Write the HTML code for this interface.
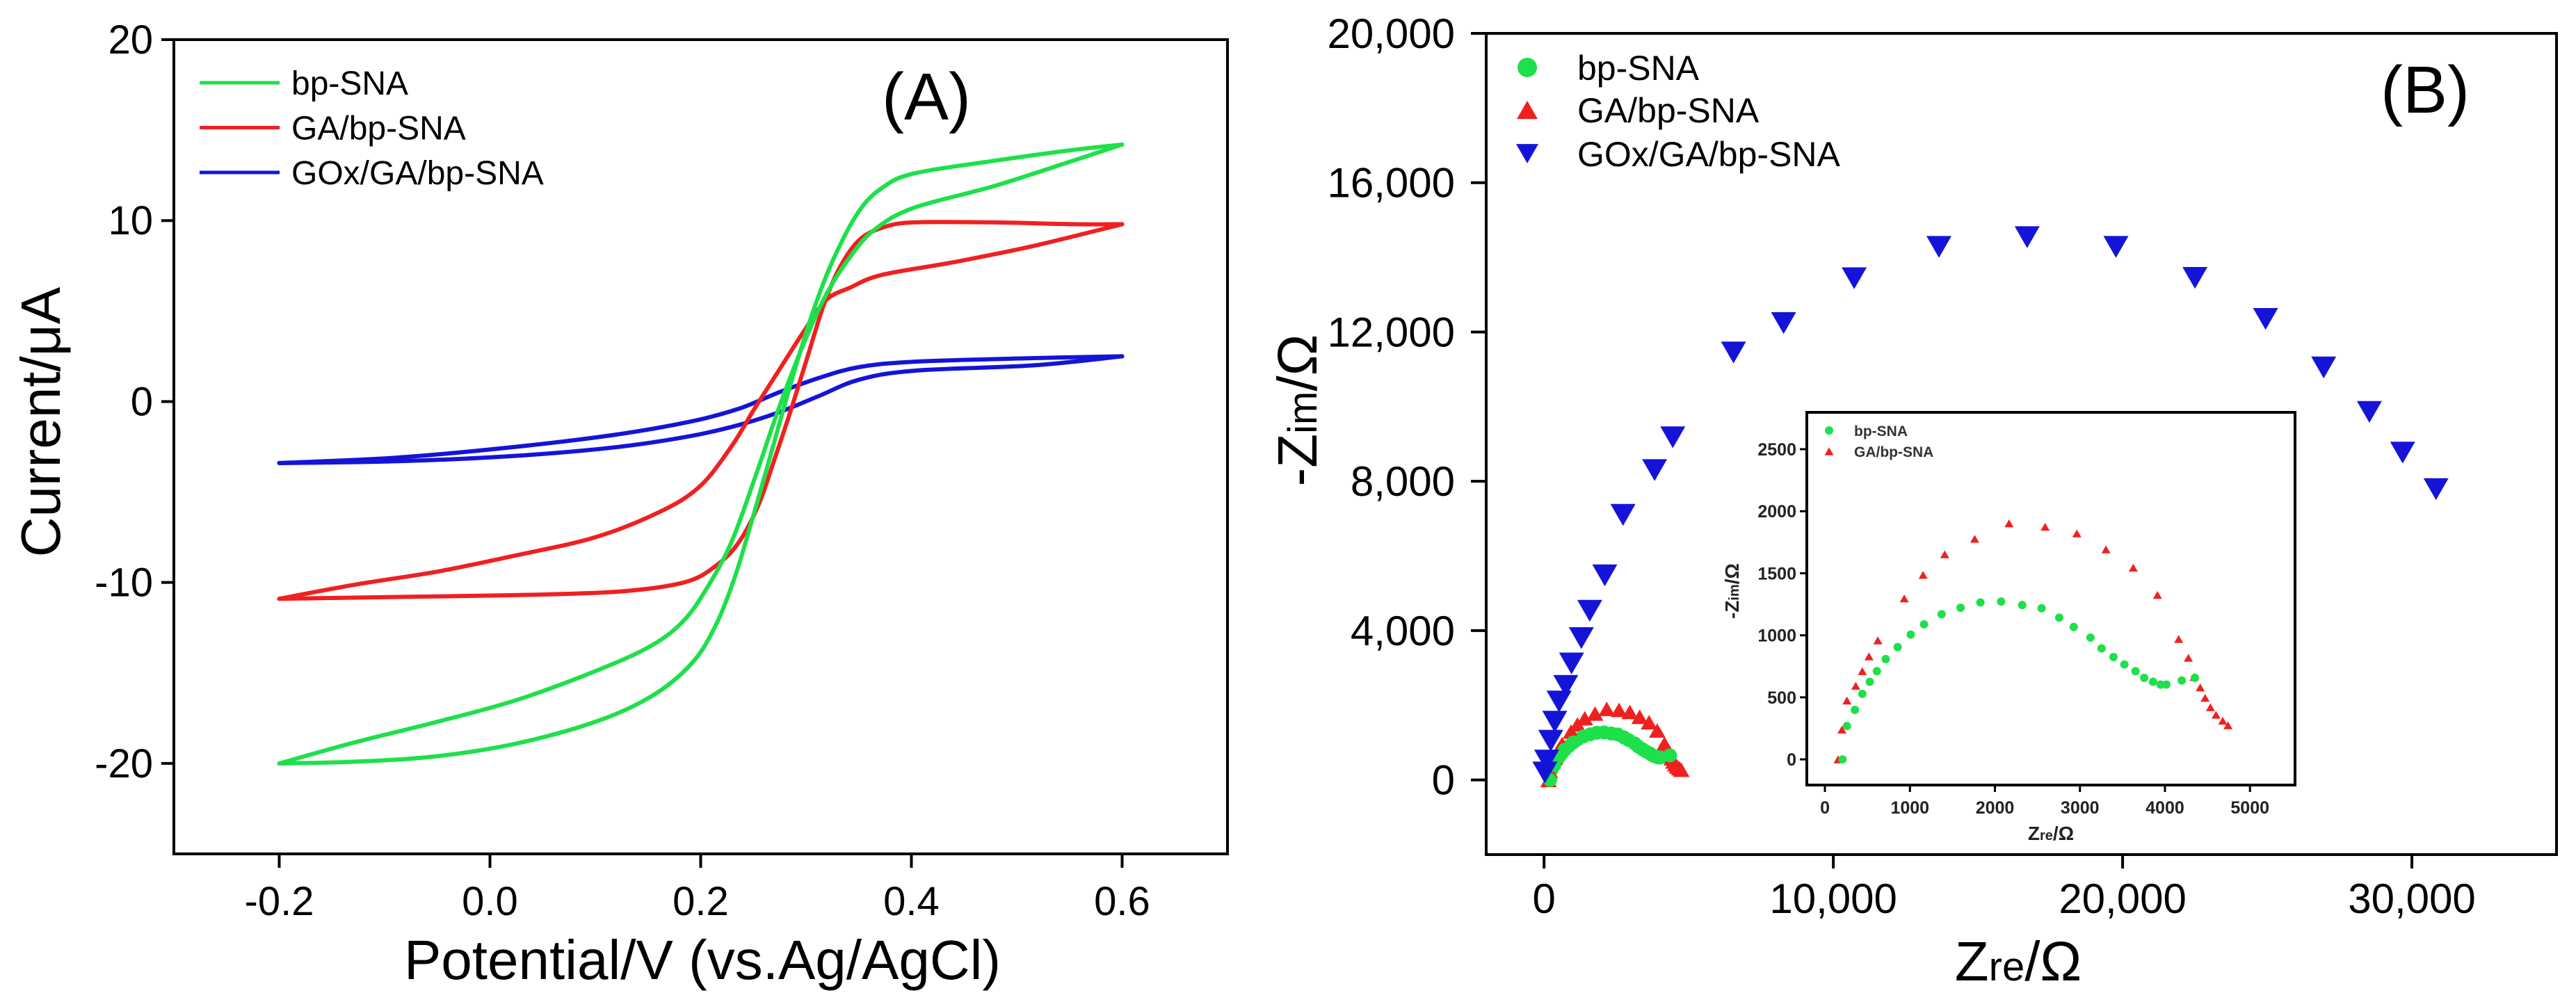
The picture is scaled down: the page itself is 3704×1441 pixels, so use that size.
<!DOCTYPE html>
<html><head><meta charset="utf-8"><style>
html,body{margin:0;padding:0;background:#fff}
svg{display:block}
text{font-family:"Liberation Sans",sans-serif}
</style></head><body>
<svg id="fig" width="3704" height="1441" viewBox="0 0 3704 1441" xmlns="http://www.w3.org/2000/svg">
<g id="panelA"></g>
<g id="panelB"></g>
</svg>
<script>
// ---------- Panel A data (CV) ----------
const cvTicksX = [-0.2, 0.0, 0.2, 0.4, 0.6];
const cvTickLabelsX = ["-0.2", "0.0", "0.2", "0.4", "0.6"];
const cvTicksY = [20, 10, 0, -10, -20];
const cvTickLabelsY = ["20", "10", "0", "-10", "-20"];
const cvSeriesNames = ["bp-SNA", "GA/bp-SNA", "GOx/GA/bp-SNA"];
const greenFwdV = [-0.2,-0.126,-0.05,0.025,0.1,0.153,0.191,0.214,0.233,0.251,0.270,0.289,0.308,0.327,0.350,0.372,0.402,0.478,0.553,0.6];
const greenFwdI = [-20.0,-19.9,-19.6,-18.9,-17.7,-16.3,-14.5,-12.4,-9.6,-6.1,-2.2,1.7,5.2,8.0,10.5,11.8,12.6,13.3,13.9,14.2];
const greenRevV = [-0.2,-0.126,-0.05,0.025,0.1,0.153,0.184,0.206,0.229,0.251,0.274,0.297,0.319,0.342,0.365,0.402,0.478,0.553,0.6];
const greenRevI = [-20.0,-18.8,-17.7,-16.5,-14.9,-13.5,-12.1,-10.3,-7.8,-4.3,-0.4,3.1,5.9,8.0,9.5,10.7,11.9,13.3,14.2];
const redFwdV = [-0.2,-0.088,0.025,0.123,0.184,0.214,0.236,0.255,0.270,0.286,0.301,0.316,0.331,0.350,0.372,0.402,0.478,0.553,0.6];
const redFwdI = [-10.9,-10.8,-10.7,-10.5,-10.0,-9.1,-7.8,-5.7,-3.2,-0.4,2.4,5.2,7.3,8.9,9.6,9.9,9.9,9.8,9.8];
const redRevV = [-0.2,-0.126,-0.05,0.025,0.1,0.161,0.199,0.229,0.251,0.274,0.297,0.319,0.342,0.372,0.440,0.516,0.6];
const redRevI = [-10.9,-10.1,-9.4,-8.5,-7.5,-6.1,-4.7,-2.5,-0.4,1.7,3.8,5.6,6.3,7.0,7.7,8.6,9.8];
const blueFwdV = [-0.2,-0.088,0.025,0.123,0.191,0.236,0.274,0.312,0.350,0.402,0.516,0.6];
const blueFwdI = [-3.4,-3.1,-2.5,-1.8,-1.1,-0.4,0.5,1.3,1.9,2.2,2.4,2.5];
const blueRevV = [-0.2,-0.088,0.025,0.123,0.191,0.236,0.274,0.312,0.350,0.402,0.516,0.6];
const blueRevI = [-3.4,-3.3,-3.0,-2.5,-1.9,-1.3,-0.6,0.3,1.2,1.7,2.0,2.5];

// ---------- Panel B data (Nyquist) ----------
const nqTicksX = [0, 10000, 20000, 30000];
const nqTickLabelsX = ["0", "10,000", "20,000", "30,000"];
const nqTicksY = [0, 4000, 8000, 12000, 16000, 20000];
const nqTickLabelsY = ["0", "4,000", "8,000", "12,000", "16,000", "20,000"];
const blueZre = [30,90,230,370,520,750,950,1290,1580,2100,2730,3820,4450,6550,8280,10720,13650,16700,19770,22500,24940,26950,28530,29680,30833];
const blueZim = [200,520,1050,1560,2100,2520,3120,3800,4530,5480,7100,8300,9180,11450,12240,13440,14280,14540,14280,13450,12350,11050,9860,8770,7790];
const redZre = [155,200,259,363,440,518,622,933,1155,1409,1762,2166,2591,2964,3306,3627,3912,4161,4275,4342,4415,4472,4534,4601,4679,4741];
const redZim = [0,240,474,593,711,830,959,1297,1487,1653,1778,1903,1875,1821,1692,1545,1325,970,819,664,580,496,420,360,312,274];
const greenZre = [207,259,352,440,528,611,715,855,1010,1166,1373,1596,1829,2073,2321,2549,2756,2927,3124,3254,3394,3523,3653,3756,3860,3948,4016,4197,4352];
const greenZim = [0,269,399,528,625,711,808,905,1006,1088,1170,1222,1265,1272,1244,1218,1142,1067,981,894,825,765,711,657,625,603,603,636,657];
const insetTicksX = [0,1000,2000,3000,4000,5000];
const insetTickLabelsX = ["0","1000","2000","3000","4000","5000"];
const insetTicksY = [0,500,1000,1500,2000,2500];
const insetTickLabelsY = ["0","500","1000","1500","2000","2500"];

const NS = "http://www.w3.org/2000/svg";
function mk(parent, tag, attrs, txt){
  const e = document.createElementNS(NS, tag);
  for (const k in attrs) e.setAttribute(k, attrs[k]);
  if (txt !== undefined) e.textContent = txt;
  parent.appendChild(e);
  return e;
}
function lin(d0,d1,r0,r1){ return v => r0 + (v-d0)/(d1-d0)*(r1-r0); }

const GREEN="#1ee04a", RED="#f02020", BLUE="#1414d8";

// ================= Panel A =================
const A = document.getElementById('panelA');
const ax = lin(-0.3, 0.7, 250, 1765);
const ay = lin(-25, 20, 1228, 57);
let e;
e = mk(A,'rect',{x:250,y:57,width:1515,height:1171,fill:'none',stroke:'#000','stroke-width':4});


cvTicksY.forEach((t,i)=>{
  e = mk(A,'line',{x1:232,x2:250,y1:ay(t),y2:ay(t),stroke:'#000','stroke-width':4});
  
  
  e = mk(A,'text',{x:220,y:ay(t)+20,'font-size':58,'text-anchor':'end'},cvTickLabelsY[i]);
  
  
});
cvTicksX.forEach((t,i)=>{
  e = mk(A,'line',{x1:ax(t),x2:ax(t),y1:1228,y2:1248,stroke:'#000','stroke-width':4});
  
  
  e = mk(A,'text',{x:ax(t),y:1316,'font-size':58,'text-anchor':'middle'},cvTickLabelsX[i]);
  
  
});
e = mk(A,'text',{x:1010,y:1408,'font-size':80,'text-anchor':'middle'},'Potential/V (vs.Ag/AgCl)');


e = mk(A,'text',{x:0,y:0,'font-size':80,'text-anchor':'middle',transform:'translate(86,607) rotate(-90)'},'Current/μA');


e = mk(A,'text',{x:1332,y:172,'font-size':96,'text-anchor':'middle'},'(A)');


function smoothPath(pts){
  let d = 'M'+pts[0][0].toFixed(1)+','+pts[0][1].toFixed(1);
  for(let i=0;i<pts.length-1;i++){
    const p0 = pts[Math.max(0,i-1)], p1 = pts[i], p2 = pts[i+1], p3 = pts[Math.min(pts.length-1,i+2)];
    const c1x = p1[0]+(p2[0]-p0[0])/6, c1y = p1[1]+(p2[1]-p0[1])/6;
    const c2x = p2[0]-(p3[0]-p1[0])/6, c2y = p2[1]-(p3[1]-p1[1])/6;
    d += ' C'+c1x.toFixed(1)+','+c1y.toFixed(1)+' '+c2x.toFixed(1)+','+c2y.toFixed(1)+' '+p2[0].toFixed(1)+','+p2[1].toFixed(1);
  }
  return d;
}
function cvLine(V,I,color,name){
  const pts = V.map((v,i)=>[ax(v), ay(I[i])]);
  const p = mk(A,'path',{d:smoothPath(pts),fill:'none',stroke:color,'stroke-width':6,'stroke-linejoin':'round','stroke-linecap':'round'});
  
  
}
cvLine(blueFwdV,blueFwdI,BLUE,'gox-ga-bp-sna-forward-scan');
cvLine(blueRevV,blueRevI,BLUE,'gox-ga-bp-sna-reverse-scan');
cvLine(redFwdV,redFwdI,RED,'ga-bp-sna-forward-scan');
cvLine(redRevV,redRevI,RED,'ga-bp-sna-reverse-scan');
cvLine(greenFwdV,greenFwdI,GREEN,'bp-sna-forward-scan');
cvLine(greenRevV,greenRevI,GREEN,'bp-sna-reverse-scan');
[GREEN,RED,BLUE].forEach((c,i)=>{
  const y = 119 + i*64.5;
  e = mk(A,'line',{x1:287,x2:402,y1:y,y2:y,stroke:c,'stroke-width':5});
  
  
  e = mk(A,'text',{x:419,y:y+17,'font-size':48},cvSeriesNames[i]);
  
  
});

// ================= Panel B =================
const B = document.getElementById('panelB');
const bx = lin(-2000, 35000, 2137, 3676);
const by = lin(-2000, 20000, 1229, 48);
e = mk(B,'rect',{x:2137,y:48,width:1539,height:1181,fill:'none',stroke:'#000','stroke-width':4});


nqTicksY.forEach((t,i)=>{
  e = mk(B,'line',{x1:2115,x2:2137,y1:by(t),y2:by(t),stroke:'#000','stroke-width':4});
  
  
  e = mk(B,'text',{x:2092,y:by(t)+21,'font-size':60,'text-anchor':'end'},nqTickLabelsY[i]);
  
  
});
nqTicksX.forEach((t,i)=>{
  e = mk(B,'line',{x1:bx(t),x2:bx(t),y1:1229,y2:1249,stroke:'#000','stroke-width':4});
  
  
  e = mk(B,'text',{x:bx(t),y:1313,'font-size':60,'text-anchor':'middle'},nqTickLabelsX[i]);
  
  
});
e = mk(B,'text',{x:2902,y:1410,'font-size':80,'text-anchor':'middle'});


mk(e,'tspan',{},'Z');mk(e,'tspan',{'font-size':58},'re');mk(e,'tspan',{},'/Ω');
e = mk(B,'text',{x:0,y:0,'font-size':80,'text-anchor':'middle',transform:'translate(1893,590) rotate(-90)'});


mk(e,'tspan',{},'-Z');mk(e,'tspan',{'font-size':58},'im');mk(e,'tspan',{},'/Ω');
e = mk(B,'text',{x:3487,y:162,'font-size':96,'text-anchor':'middle'},'(B)');



function tri(parent,cx,cy,s,color,down){
  const h = s*0.87;
  const pts = down ? [[cx-s/2,cy-h/2],[cx+s/2,cy-h/2],[cx,cy+h/2]] : [[cx-s/2,cy+h/2],[cx+s/2,cy+h/2],[cx,cy-h/2]];
  return mk(parent,'polygon',{points:pts.map(p=>p[0].toFixed(1)+','+p[1].toFixed(1)).join(' '),fill:color});
}
greenZre.forEach((v,i)=>{
  e = mk(B,'circle',{cx:bx(v),cy:by(greenZim[i]),r:10,fill:GREEN});
  
  
});
redZre.forEach((v,i)=>{
  e = tri(B,bx(v),by(redZim[i]),24,RED,false);
  
  
});
greenZre.forEach((v,i)=>{
  if(i%2) return;
  e = mk(B,'circle',{cx:bx(v),cy:by(greenZim[i]),r:10,fill:GREEN});
  
  
});
blueZre.forEach((v,i)=>{
  e = tri(B,bx(v),by(blueZim[i]),36,BLUE,true);
  
  
});
e = mk(B,'circle',{cx:2196,cy:97,r:14,fill:GREEN});


e = tri(B,2196,158,30,RED,false);


e = tri(B,2196,221,32,BLUE,true);


cvSeriesNames.forEach((n,i)=>{
  e = mk(B,'text',{x:2268,y:[97,158,221][i]+18,'font-size':50},n);
  
  
});

// ---------- Inset ----------
const I = mk(B,'g',{});


const ix = lin(-213, 5530, 2598, 3300);
const iy = lin(-207, 2797, 1129, 593);
e = mk(I,'rect',{x:2598,y:593,width:702,height:536,fill:'#fff',stroke:'#000','stroke-width':4});


insetTicksY.forEach((t,i)=>{
  e = mk(I,'line',{x1:2588,x2:2598,y1:iy(t),y2:iy(t),stroke:'#000','stroke-width':3});
  
  
  e = mk(I,'text',{x:2583,y:iy(t)+9,'font-size':25,'font-weight':'bold','text-anchor':'end',fill:'#222'},insetTickLabelsY[i]);
  
  
});
insetTicksX.forEach((t,i)=>{
  e = mk(I,'line',{x1:ix(t),x2:ix(t),y1:1129,y2:1139,stroke:'#000','stroke-width':3});
  
  
  e = mk(I,'text',{x:ix(t),y:1170,'font-size':25,'font-weight':'bold','text-anchor':'middle',fill:'#222'},insetTickLabelsX[i]);
  
  
});
e = mk(I,'text',{x:2949,y:1208,'font-size':28,'font-weight':'bold','text-anchor':'middle',fill:'#222'});


mk(e,'tspan',{},'Z');mk(e,'tspan',{'font-size':20},'re');mk(e,'tspan',{},'/Ω');
e = mk(I,'text',{x:0,y:0,'font-size':28,'font-weight':'bold','text-anchor':'middle',fill:'#222',transform:'translate(2500,850) rotate(-90)'});


mk(e,'tspan',{},'-Z');mk(e,'tspan',{'font-size':20},'im');mk(e,'tspan',{},'/Ω');
redZre.forEach((v,i)=>{
  e = tri(I,ix(v),iy(redZim[i]),13,RED,false);
  
  
});
greenZre.forEach((v,i)=>{
  e = mk(I,'circle',{cx:ix(v),cy:iy(greenZim[i]),r:6,fill:GREEN});
  
  
});
e = mk(I,'circle',{cx:2630,cy:619,r:6,fill:GREEN});


e = tri(I,2630,649,13,RED,false);


e = mk(I,'text',{x:2666,y:627,'font-size':21,'font-weight':'bold',fill:'#333'},'bp-SNA');


e = mk(I,'text',{x:2666,y:657,'font-size':21,'font-weight':'bold',fill:'#333'},'GA/bp-SNA');


</script>
</body></html>
